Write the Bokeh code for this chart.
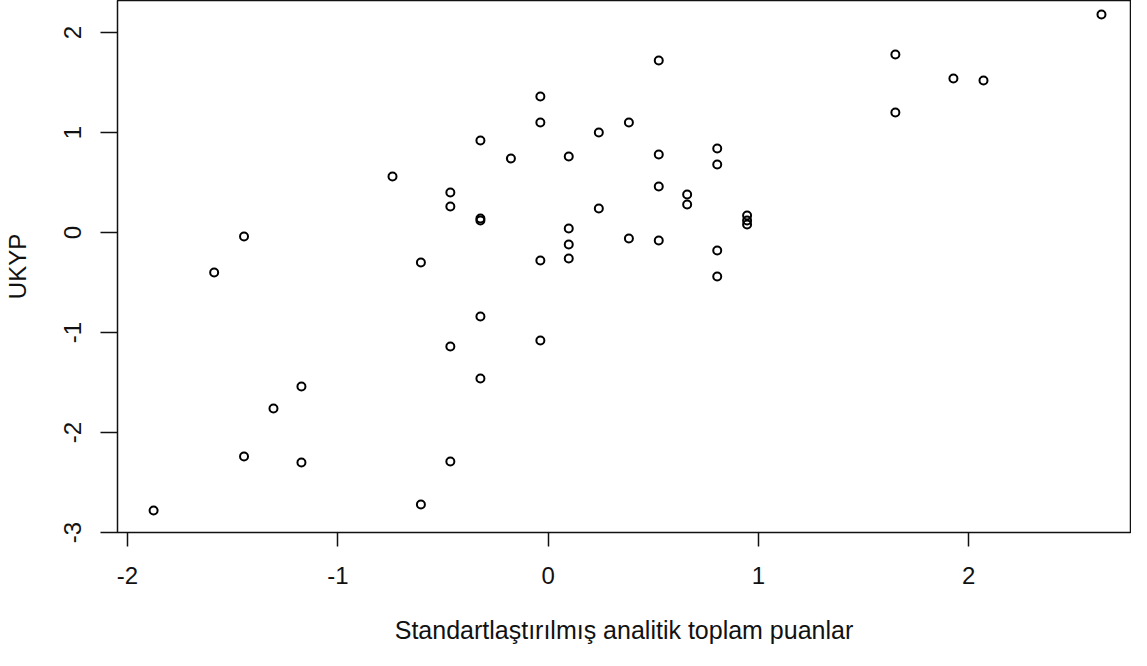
from bokeh.plotting import figure
from bokeh.models import FixedTicker, Range1d
from bokeh.embed import file_html
from bokeh.resources import INLINE

# Data
x_vals = [-1.876, -1.588, -1.446, -1.446, -1.306, -1.173, -1.173, -0.740, -0.605, -0.605,
          -0.465, -0.465, -0.465, -0.465, -0.322, -0.322, -0.322, -0.322, -0.322, -0.177,
          -0.037, -0.037, -0.037, -0.037, 0.098, 0.098, 0.098, 0.098, 0.241, 0.241,
          0.384, 0.384, 0.526, 0.526, 0.526, 0.526, 0.661, 0.661, 0.804, 0.804,
          0.804, 0.804, 0.946, 0.946, 0.946, 1.651, 1.651, 1.927, 2.070, 2.631]
y_vals = [-2.78, -0.40, -0.04, -2.24, -1.76, -1.54, -2.30, 0.56, -0.30, -2.72,
          0.40, 0.26, -1.14, -2.29, 0.92, 0.14, 0.12, -0.84, -1.46, 0.74,
          1.36, 1.10, -0.28, -1.08, 0.76, 0.04, -0.12, -0.26, 1.00, 0.24,
          1.10, -0.06, 1.72, 0.78, 0.46, -0.08, 0.38, 0.28, 0.84, 0.68,
          -0.18, -0.44, 0.17, 0.12, 0.08, 1.78, 1.20, 1.54, 1.52, 2.18]
x_ticks = [-2, -1, 0, 1, 2]
y_ticks = [-3, -2, -1, 0, 1, 2]
x_label = "Standartlaştırılmış analitik toplam puanlar"
y_label = "UKYP"

FONT = "Liberation Sans"
FS = "24px"

p = figure(width=1131, height=650, output_backend="svg", toolbar_location=None,
           x_range=Range1d(-2.0476, 2.769), y_range=Range1d(-3.0, 2.32),
           min_border_left=117, min_border_right=1, min_border_top=0,
           min_border_bottom=118)
p.background_fill_color = "white"
p.border_fill_color = "white"
p.outline_line_color = "#111111"
p.outline_line_width = 1.5
p.xgrid.visible = False
p.ygrid.visible = False

p.scatter(x_vals, y_vals, marker="circle", size=8, fill_color=None,
          line_color="black", line_width=2)

for ax, ticks, out in ((p.xaxis[0], x_ticks, 14), (p.yaxis[0], y_ticks, 17)):
    ax.ticker = FixedTicker(ticks=ticks)
    ax.major_label_overrides = {t: str(t) for t in ticks}
    ax.axis_line_color = None
    ax.major_tick_line_color = "#111111"
    ax.major_tick_line_width = 1.5
    ax.major_tick_in = 0
    ax.major_tick_out = out
    ax.minor_tick_line_color = None
    ax.major_label_text_font = FONT
    ax.major_label_text_font_size = FS
    ax.major_label_text_color = "#111111"
    ax.axis_label_text_font = FONT
    ax.axis_label_text_font_size = FS
    ax.axis_label_text_font_style = "normal"
    ax.axis_label_text_color = "#111111"

p.xaxis[0].axis_label = x_label
p.xaxis[0].axis_label_text_font_size = "25px"
p.xaxis[0].major_label_standoff = 20
p.xaxis[0].axis_label_standoff = 29
p.yaxis[0].axis_label = y_label
p.yaxis[0].major_label_orientation = "vertical"
p.yaxis[0].major_label_standoff = 20
p.yaxis[0].axis_label_standoff = 30

open("out.html", "w").write(file_html(p, INLINE))
